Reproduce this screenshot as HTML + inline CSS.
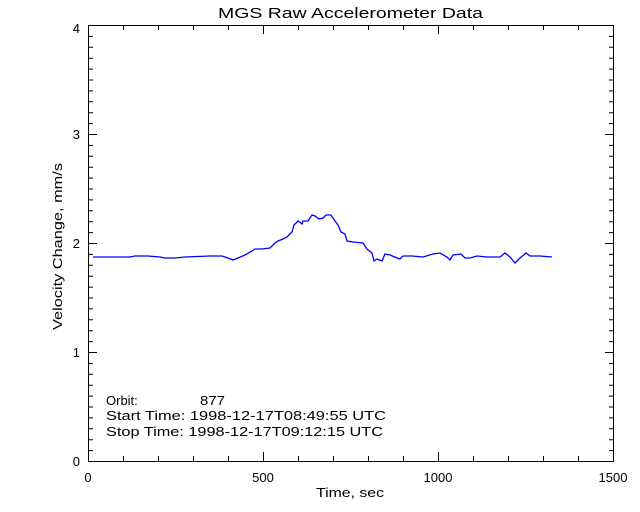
<!DOCTYPE html>
<html><head><style>body{margin:0;background:#fff}svg{display:block}text{font-family:"Liberation Sans",sans-serif;font-size:13px;fill:#000}</style></head>
<body><svg width="640" height="512" viewBox="0 0 640 512">
<rect width="640" height="512" fill="#fff"/>
<text x="218" y="18" textLength="265" lengthAdjust="spacingAndGlyphs" style="font-size:15px">MGS Raw Accelerometer Data</text>
<g stroke="#000" stroke-width="1" fill="none">
<rect x="88.5" y="25.5" width="525" height="436"/>
<path d="
M88 134.5h9M88 243.5h9M88 352.5h9M614 134.5h-9M614 243.5h-9M614 352.5h-9
M263.5 461v-9M438.5 461v-9M263.5 25v9M438.5 25v9
M123.5 461v-5M158.5 461v-5M193.5 461v-5M228.5 461v-5M298.5 461v-5M333.5 461v-5M368.5 461v-5M403.5 461v-5M473.5 461v-5M508.5 461v-5M543.5 461v-5M578.5 461v-5
M123.5 25v5M158.5 25v5M193.5 25v5M228.5 25v5M298.5 25v5M333.5 25v5M368.5 25v5M403.5 25v5M473.5 25v5M508.5 25v5M543.5 25v5M578.5 25v5"/>
</g>
<g id="minor" stroke="#000"></g>
<text x="80" y="466" text-anchor="end">0</text>
<text x="80" y="357" text-anchor="end">1</text>
<text x="80" y="248" text-anchor="end">2</text>
<text x="80" y="139" text-anchor="end">3</text>
<text x="80" y="33" text-anchor="end">4</text>
<text x="88" y="482" text-anchor="middle">0</text>
<text x="263" y="482" text-anchor="middle">500</text>
<text x="438" y="482" text-anchor="middle">1000</text>
<text x="613" y="482" text-anchor="middle">1500</text>
<text x="316" y="497" textLength="68" lengthAdjust="spacingAndGlyphs">Time, sec</text>
<text transform="translate(62,330) rotate(-90)" textLength="167" lengthAdjust="spacingAndGlyphs">Velocity Change, mm/s</text>
<text x="106" y="405">Orbit:</text><text x="200" y="405" textLength="25" lengthAdjust="spacingAndGlyphs">877</text>
<text x="106" y="420" textLength="280" lengthAdjust="spacingAndGlyphs">Start Time: 1998-12-17T08:49:55 UTC</text>
<text x="106" y="436" textLength="277" lengthAdjust="spacingAndGlyphs">Stop Time: 1998-12-17T09:12:15 UTC</text>
<polyline fill="none" stroke="#0000ff" stroke-width="1.3" points="93,257 110,257 130,257 135,256 148,256 160,257 165,258 175,258 185,257 210,256 222,256 228,258 233,260 238,258 245,255 252,251 255,249 262,249 270,248 275,243 278,241 283,239 287,237 292,232 294,225 298,221 302,224 303,221 308,221 312,215 315,216 319,219 323,218 326,215 331,215 335,221 338,225 341,232 345,234 347,241 353,242 363,243 367,249 372,253 374,261 377,259 382,261 385,254 390,255 397,258 400,259 403,256 412,256 423,257 433,254 440,253 447,257 450,260 453,255 461,254 465,258 470,258 477,256 487,257 500,257 505,253 510,257 515,263 520,258 526,253 530,256 540,256 552,257"/>
</svg>
<script>
var g=document.getElementById('minor'),s='';
for(var i=1;i<40;i++){if(i%10==0)continue;var y=461-i*10.9+0.5;s+='M88 '+y+'h5M614 '+y+'h-5';}
var p=document.createElementNS('http://www.w3.org/2000/svg','path');p.setAttribute('d',s);p.setAttribute('stroke','#000');g.appendChild(p);
</script>
</body></html>
